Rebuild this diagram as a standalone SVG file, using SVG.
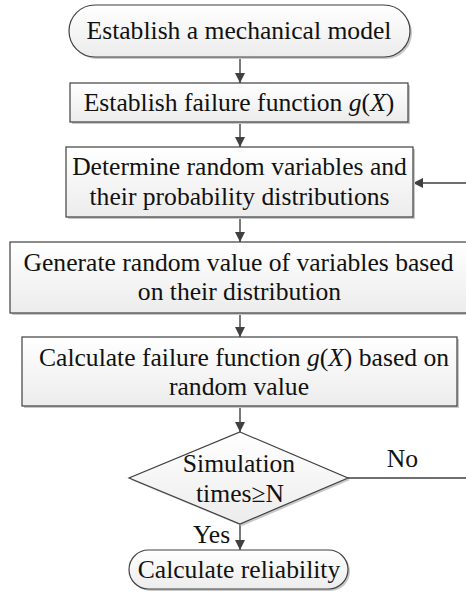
<svg xmlns="http://www.w3.org/2000/svg" width="466" height="592" viewBox="0 0 466 592">
  <defs>
    <linearGradient id="fill" x1="0" y1="0" x2="0" y2="1">
      <stop offset="0" stop-color="#ffffff"/>
      <stop offset="1" stop-color="#ececec"/>
    </linearGradient>
    <marker id="arrow" viewBox="0 0 10 10" refX="10" refY="5" markerWidth="10" markerHeight="11" markerUnits="userSpaceOnUse" orient="auto">
      <path d="M0,0 L10,5 L0,10 Z" fill="#404040"/>
    </marker>
  </defs>
  <style>
    .shape { fill: url(#fill); stroke: #404040; stroke-width: 1.2; }
    .shadow { fill: #c8c8c8; stroke: none; }
    .link { fill: none; stroke: #404040; stroke-width: 1.4; }
    text { font-family: "Liberation Serif", "Times New Roman", serif; font-size: 25.6px; fill: #111; text-anchor: middle; }
    .it { font-style: italic; }
  </style>

  <rect width="466" height="592" fill="#ffffff"/>

  <!-- connectors -->
  <g id="connectors">
    <line class="link" x1="240" y1="57" x2="240" y2="83" marker-end="url(#arrow)"/>
    <line class="link" x1="240" y1="122" x2="240" y2="147" marker-end="url(#arrow)"/>
    <line class="link" x1="240" y1="217" x2="240" y2="242" marker-end="url(#arrow)"/>
    <line class="link" x1="240" y1="313" x2="240" y2="337" marker-end="url(#arrow)"/>
    <line class="link" x1="240" y1="406" x2="240" y2="432" marker-end="url(#arrow)"/>
    <line class="link" x1="240" y1="524" x2="240" y2="550" marker-end="url(#arrow)"/>
    <line class="link" x1="348" y1="478" x2="466" y2="478"/>
    <line class="link" x1="466" y1="183" x2="413" y2="183" marker-end="url(#arrow)"/>
    <text x="402.5" y="467">No</text>
    <text x="211.5" y="543">Yes</text>
  </g>

  <!-- start terminal -->
  <g id="start">
    <rect class="shadow" x="71" y="7" width="341" height="52" rx="26"/>
    <rect class="shape" x="69" y="5" width="341" height="52" rx="26"/>
    <text x="239" y="39">Establish a mechanical model</text>
  </g>

  <g id="failure-function">
    <rect class="shadow" x="72" y="85" width="338" height="39"/>
    <rect class="shape" x="70" y="83" width="338" height="39"/>
    <text x="239" y="111">Establish failure function <tspan class="it">g</tspan>(<tspan class="it">X</tspan>)</text>
  </g>

  <g id="random-variables">
    <rect class="shadow" x="68" y="149" width="347" height="70"/>
    <rect class="shape" x="66" y="147" width="347" height="70"/>
    <text x="239.5" y="175">Determine random variables and</text>
    <text x="239.5" y="205">their probability distributions</text>
  </g>

  <g id="generate-values">
    <rect class="shadow" x="12" y="244" width="456" height="71"/>
    <rect class="shape" x="10" y="242" width="458" height="71"/>
    <text x="238.5" y="271">Generate random value of variables based</text>
    <text x="239.5" y="300">on their distribution</text>
  </g>

  <g id="calculate-function">
    <rect class="shadow" x="24" y="339" width="435" height="69"/>
    <rect class="shape" x="22" y="337" width="435" height="69"/>
    <text x="244" y="366">Calculate failure function <tspan class="it">g</tspan>(<tspan class="it">X</tspan>) based on</text>
    <text x="239" y="395">random value</text>
  </g>

  <g id="decision">
    <polygon class="shadow" points="242,434 350,480 242,526 131,480"/>
    <polygon class="shape" points="240,432 348,478 240,524 129,478"/>
    <text x="239" y="472">Simulation</text>
    <text x="240" y="502">times≥N</text>
  </g>

  <!-- end terminal -->
  <g id="end">
    <rect class="shadow" x="131" y="552" width="219" height="39" rx="19.5"/>
    <rect class="shape" x="129" y="550" width="219" height="39" rx="19.5"/>
    <text x="239" y="578">Calculate reliability</text>
  </g>
</svg>
